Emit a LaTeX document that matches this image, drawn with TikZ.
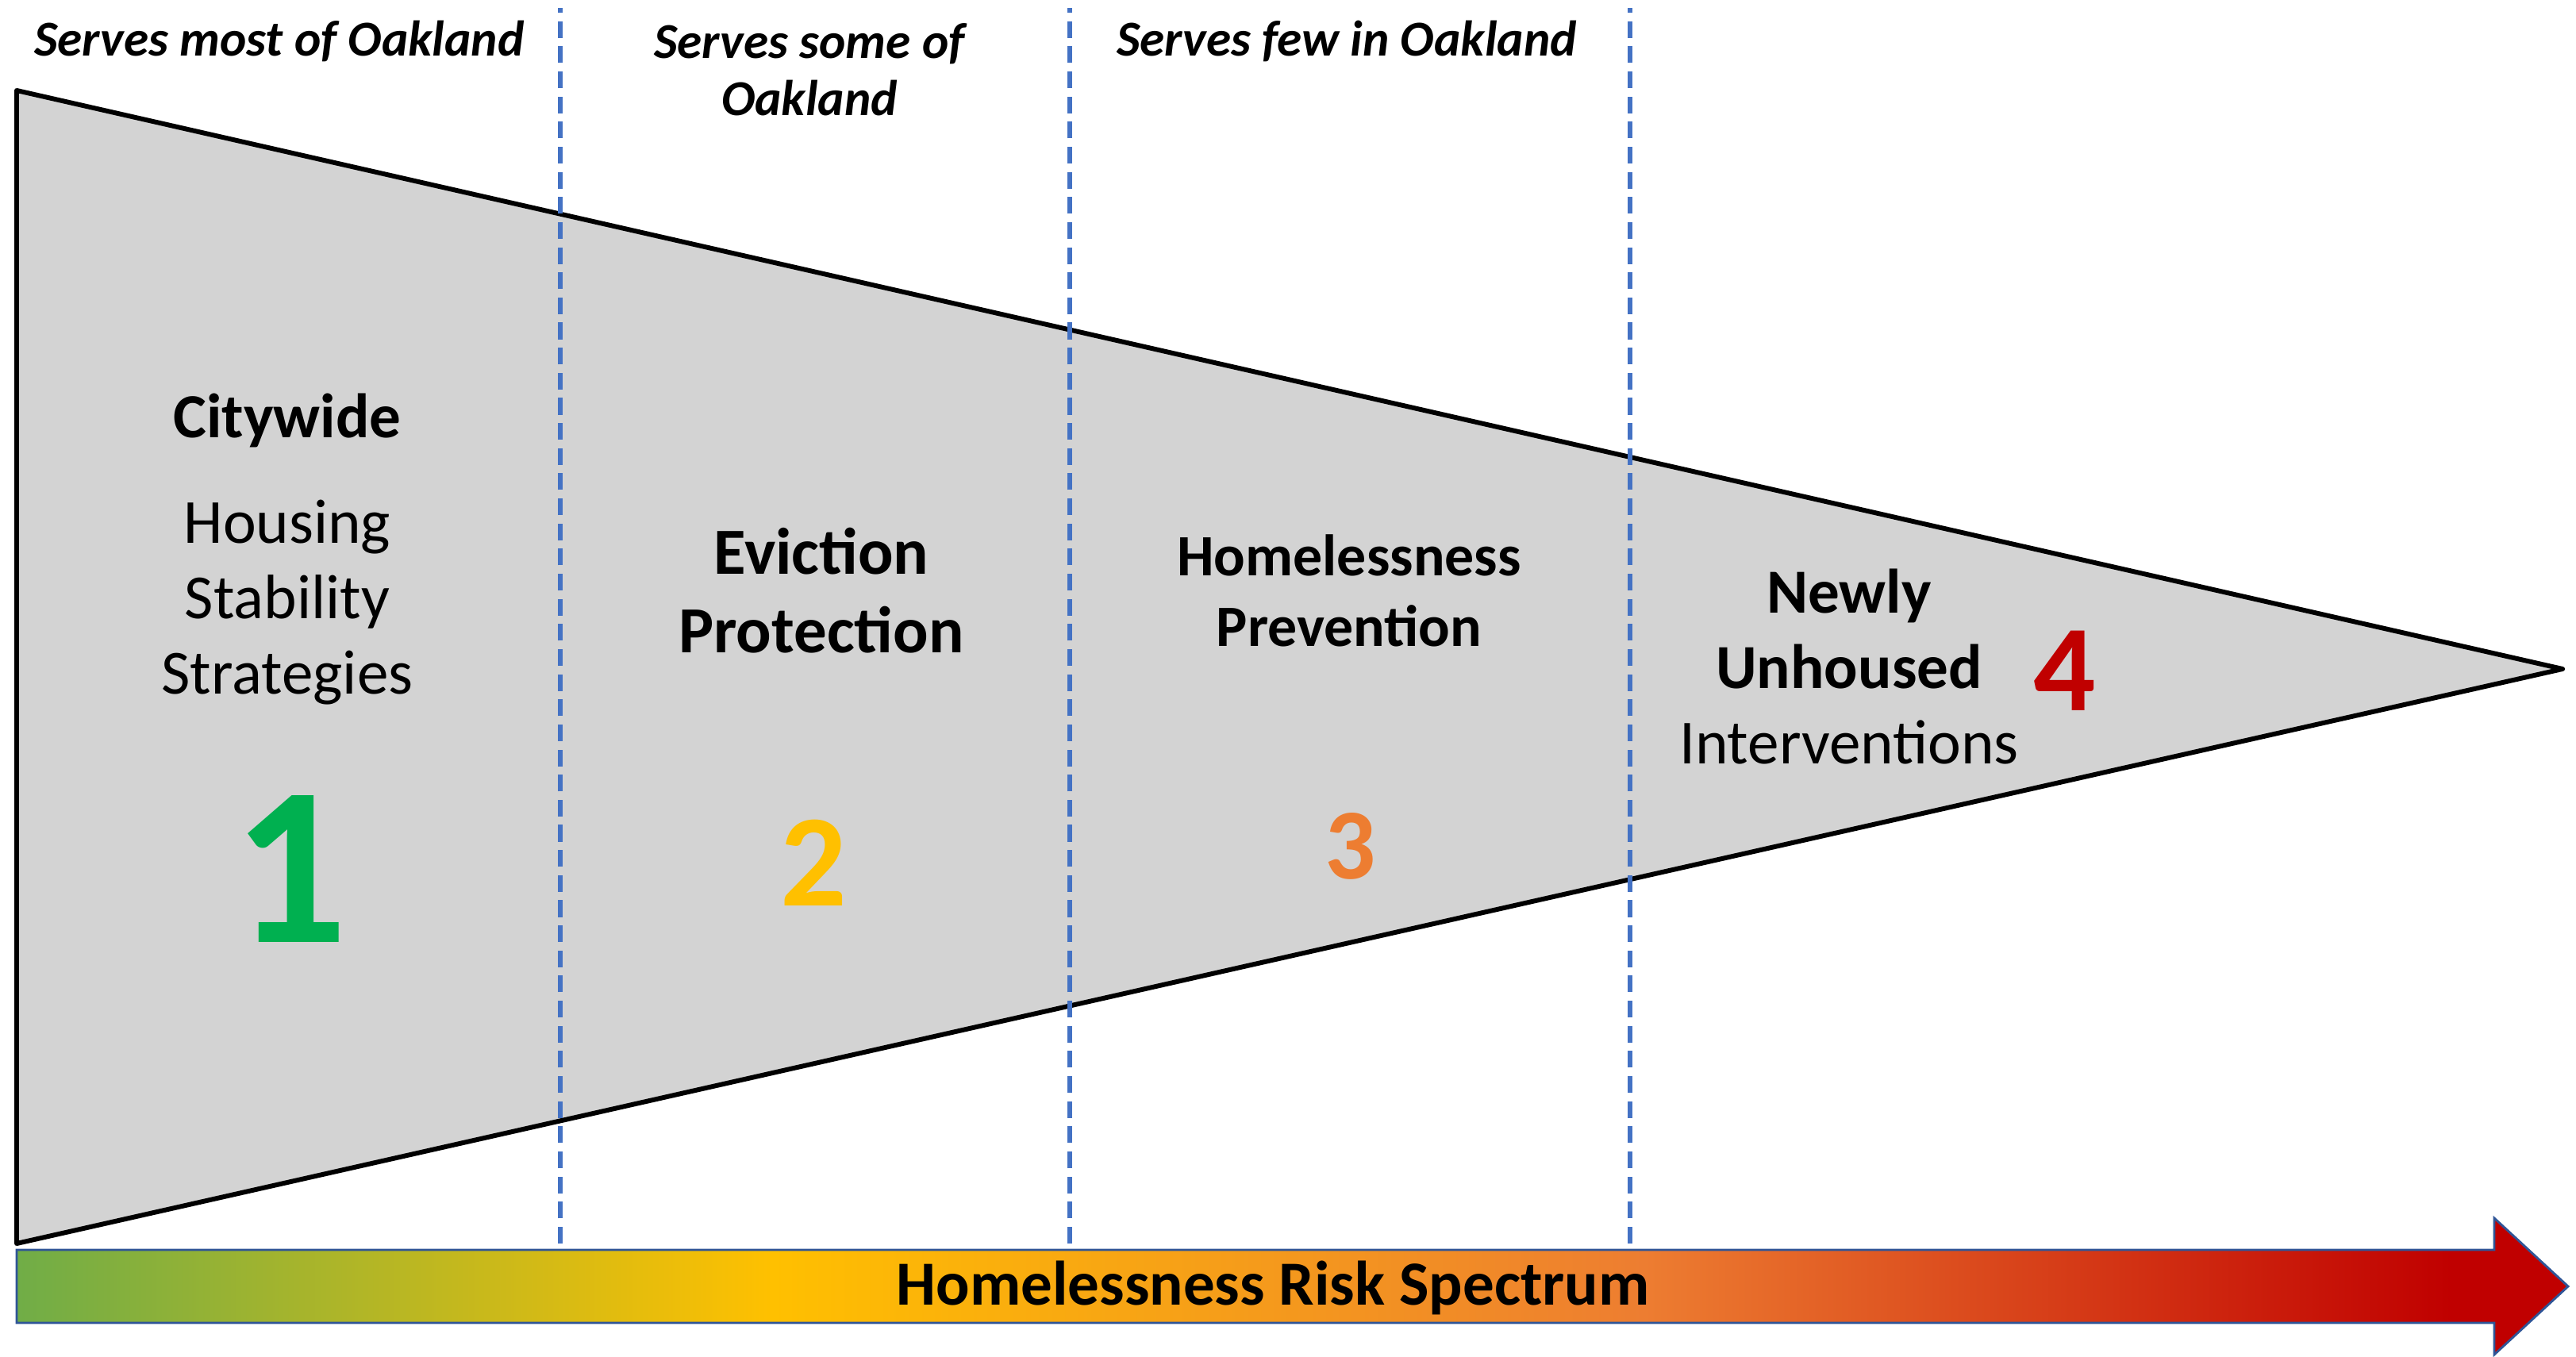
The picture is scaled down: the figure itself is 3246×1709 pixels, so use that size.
\documentclass[tikz,border=0pt]{standalone}
\usepackage{fontspec}
\setmainfont{Carlito}
\definecolor{funnelgray}{HTML}{D3D3D3}
\definecolor{gridblue}{HTML}{4472C4}
\definecolor{arrowblue}{HTML}{2F5597}
\definecolor{riskgreen}{HTML}{70AD47}
\definecolor{riskgold}{HTML}{FFC000}
\definecolor{riskorange}{HTML}{ED7D31}
\definecolor{riskred}{HTML}{C00000}
\definecolor{onegreen}{HTML}{00B050}
\pgfdeclarehorizontalshading{risk shading}{100bp}{color(0bp)=(riskgreen); color(25bp)=(riskgreen); color(39.8bp)=(riskgold); color(56.9bp)=(riskorange); color(72.7bp)=(riskred); color(100bp)=(riskred)}

\begin{document}
\begin{tikzpicture}[x=0.01cm, y=0.01cm]
    \tikzset{top text/.style={font=\fontsize{18}{20.5}\selectfont\bfseries\itshape, align=center},
             body text/.style={font=\fontsize{22.5}{27}\selectfont, align=center},
             big digit/.style={inner sep=0pt}}
    \useasboundingbox (0,0) rectangle (3246,1709);
    % funnel and column guides
    \draw[fill=funnelgray, line width=1.7pt, line join=round] (21,1595) -- (3229,866) -- (21,142) -- cycle;
    \foreach \x in {706,1348,2054}
        \draw[gridblue, line width=1.5pt, dash pattern=on 6pt off 3pt] (\x,142) -- (\x,1699);
    % risk arrow
    \shadedraw[shading=risk shading, draw=arrowblue, line width=0.8pt] (21,42) -- (3143,42) -- (3143,2) -- (3236,88) -- (3143,174) -- (3143,134) -- (21,134) -- cycle;
    \node[body text, font=\fontsize{22.5}{27}\selectfont\bfseries] (risk) at (1604,86) {Homelessness Risk Spectrum};
    % reach of each tier
    \node[top text] (most) at (352,1657) {Serves most of Oakland};
    \node[top text] (some) at (1020,1621) {Serves some of\\Oakland};
    \node[top text] (few) at (1697,1657) {Serves few in Oakland};
    % tiers
    \node[body text, font=\fontsize{22.5}{27}\selectfont\bfseries] (citywide) at (362,1179) {Citywide};
    \node[body text] (housing) at (362,950) {Housing\\Stability\\Strategies};
    \node[big digit, font=\fontsize{81}{88}\selectfont\bfseries, text=onegreen] (one) at (366,614) {1};
    \node[body text, font=\fontsize{23.6}{28}\selectfont\bfseries] (eviction) at (1035,965) {Eviction\\Protection};
    \node[big digit, font=\fontsize{47}{50}\selectfont\bfseries, text=riskgold] (two) at (1025,622) {2};
    \node[body text, font=\fontsize{21}{25.3}\selectfont\bfseries] (prevention) at (1700,965) {Homelessness\\Prevention};
    \node[big digit, font=\fontsize{36}{40}\selectfont\bfseries, text=riskorange] (three) at (1702,643) {3};
    \node[body text] (unhoused) at (2330,869) {\textbf{Newly}\\\textbf{Unhoused}\\Interventions};
    \node[big digit, font=\fontsize{44}{48}\selectfont\bfseries, text=riskred] (four) at (2602,864) {4};
\end{tikzpicture}
\end{document}
